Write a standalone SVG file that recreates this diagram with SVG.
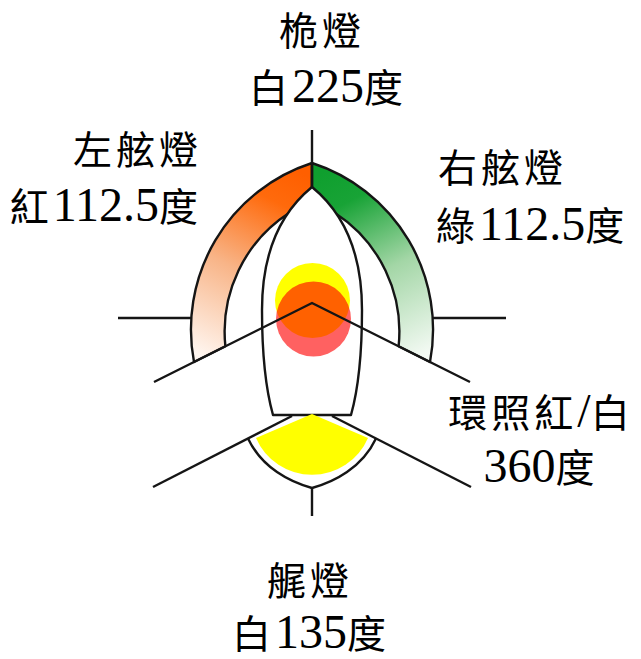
<svg xmlns="http://www.w3.org/2000/svg" width="641" height="659" viewBox="0 0 641 659">
  <defs>
    <linearGradient id="portFade" gradientUnits="userSpaceOnUse" x1="300" y1="172" x2="205" y2="358">
      <stop offset="0" stop-color="#FF5F00"/>
      <stop offset="0.18" stop-color="#FF6A0C"/>
      <stop offset="0.55" stop-color="#F8B487"/>
      <stop offset="1" stop-color="#FFF6F0"/>
    </linearGradient>
    <linearGradient id="starboardFade" gradientUnits="userSpaceOnUse" x1="324" y1="172" x2="419" y2="358">
      <stop offset="0" stop-color="#0F9F2E"/>
      <stop offset="0.18" stop-color="#18A336"/>
      <stop offset="0.55" stop-color="#A3D6A6"/>
      <stop offset="1" stop-color="#F4FAF4"/>
    </linearGradient>
    <style>
      .edge { stroke: #151515; stroke-width: 2.4; stroke-linejoin: round; }
      .line { fill: none; stroke: #151515; stroke-width: 2.4; stroke-linecap: butt; }
      .label { fill: #000; }
      .cjk { font-family: "Noto Sans CJK TC", "Noto Sans CJK SC", sans-serif; font-size: 39px; letter-spacing: 4px; }
      .num { font-family: "Liberation Serif", "Times New Roman", serif; font-size: 48px; }
    </style>
  </defs>

  <rect width="641" height="659" fill="#ffffff"/>

  <!-- port sidelight sector (red, 112.5 degrees) -->
  <g id="port-sector">
    <path class="edge" fill="url(#portFade)" d="M312,163 A175,175 0 0 0 194,362 L225.4,346.3 A141.5,141.5 0 0 1 289,213 L312,187 Z"/>
  </g>

  <!-- starboard sidelight sector (green, 112.5 degrees) -->
  <g id="starboard-sector">
    <path class="edge" fill="url(#starboardFade)" d="M312,163 A175,175 0 0 1 430,362 L398.6,346.3 A141.5,141.5 0 0 0 335,213 L312,187 Z"/>
  </g>

  <!-- hull outline, plan view -->
  <g id="hull">
    <path class="edge" fill="#ffffff" d="M312,187 C290,205 262,240 262,310 C262,360 266,390 273,415 L351,415 C358,390 362,360 362,310 C362,240 334,205 312,187 Z"/>
  </g>

  <!-- all-round light: white and red -->
  <g id="all-round-light">
    <circle cx="312.5" cy="300.5" r="37.5" fill="#FFFF00"/>
    <circle cx="313.5" cy="319" r="37.5" fill="#FF0000" fill-opacity="0.62"/>
  </g>

  <!-- sternlight sector (white, 135 degrees) -->
  <g id="stern-sector">
    <path d="M312,414 L256,438 A61,61 0 0 0 368,438 Z" fill="#FFFF00"/>
  </g>

  <g id="connectors">
    <!-- masthead and sector divider -->
    <path class="line" d="M312,130 L312,187"/>
    <!-- beam lines -->
    <path class="line" d="M118,318 L191.5,318"/>
    <path class="line" d="M432.5,318 L506,318"/>
    <!-- sidelight aft limits -->
    <path class="line" d="M154,382 L312,303 L470,382"/>
    <!-- sternlight limits -->
    <path class="line" d="M153,487 L292,416"/>
    <path class="line" d="M332,416 L471,487"/>
    <!-- stern arc and centreline astern -->
    <path class="line" d="M248,438.5 C262,468 290,482 312,488 C334,482 362,468 376,438.5"/>
    <path class="line" d="M312,488 L312,516"/>
  </g>

  <g id="labels" class="label">
    <text x="322" y="45" text-anchor="middle"><tspan class="cjk">桅燈</tspan></text>
    <text x="328" y="102" text-anchor="middle"><tspan class="cjk">白</tspan><tspan class="num">225</tspan><tspan class="cjk">度</tspan></text>

    <text x="202" y="164" text-anchor="end"><tspan class="cjk">左舷燈</tspan></text>
    <text x="202" y="221" text-anchor="end"><tspan class="cjk">紅</tspan><tspan class="num">112.5</tspan><tspan class="cjk">度</tspan></text>

    <text x="438" y="182"><tspan class="cjk">右舷燈</tspan></text>
    <text x="436" y="240"><tspan class="cjk">綠</tspan><tspan class="num">112.5</tspan><tspan class="cjk">度</tspan></text>

    <text x="541" y="427" text-anchor="middle"><tspan class="cjk">環照紅</tspan><tspan class="num">/</tspan><tspan class="cjk">白</tspan></text>
    <text x="541" y="482" text-anchor="middle"><tspan class="num">360</tspan><tspan class="cjk">度</tspan></text>

    <text x="310" y="595" text-anchor="middle"><tspan class="cjk">艉燈</tspan></text>
    <text x="311" y="648" text-anchor="middle"><tspan class="cjk">白</tspan><tspan class="num">135</tspan><tspan class="cjk">度</tspan></text>
  </g>
</svg>
